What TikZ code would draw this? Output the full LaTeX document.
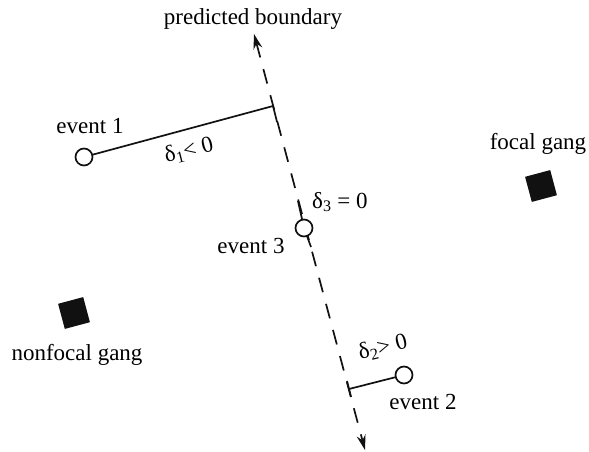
\documentclass[tikz,border=0pt]{standalone}
\usepackage{fontspec}
\setmainfont{Liberation Serif}
\usetikzlibrary{arrows.meta}
\definecolor{inkblack}{HTML}{111111}
\tikzset{
  evdot/.style={circle, draw=inkblack, line width=1.7pt, fill=white,
    minimum size=17pt, inner sep=0pt},
  gangbox/.style={fill=inkblack, minimum size=26pt, inner sep=0pt, rotate=15},
  lbl/.style={font=\fontsize{23}{27}\selectfont, inner sep=0pt},
  bnd/.style={line width=1.7pt, draw=inkblack, dash pattern=on 15pt off 12pt,
    {Stealth[length=15pt,width=9pt]}-{Stealth[length=15pt,width=9pt]}},
  conn/.style={line width=1.7pt, draw=inkblack}
}
\begin{document}
\begin{tikzpicture}[x=1pt,y=-1pt]
    \useasboundingbox (0,0) rectangle (589,451);
    % boundary
    \coordinate (btop) at (254,34);
    \coordinate (bbot) at (365,450);
    \coordinate (p1) at (273,106);
    \coordinate (p1t) at (277,122);
    \coordinate (p2) at (349,389);
    \coordinate (p2a) at (347,381);
    \coordinate (p2b) at (351,397);
    \coordinate (p3a) at (298,201);
    \coordinate (p3b) at (311,247);
    \draw[bnd] (btop) -- (bbot);
    % events
    \node[evdot] (ev1) at (84,157) {};
    \node[evdot] (ev2) at (404,375) {};
    \node[evdot] (ev3) at (304,228) {};
    \draw[conn] (ev1) -- (p1) -- (p1t);
    \draw[conn] (ev2) -- (p2);
    \draw[conn] (p2a) -- (p2b);
    \draw[conn] (p3a) -- (ev3);
    \draw[conn] (ev3) -- (p3b);
    % gangs
    \node[gangbox] (foc) at (541,186) {};
    \node[gangbox] (nfoc) at (74,313) {};
    % labels
    \node[lbl, anchor=base] (ttl) at (253,24) {predicted boundary};
    \node[lbl, anchor=base] (lev1) at (90,133) {event 1};
    \node[lbl, anchor=base] (lev2) at (423,409) {event 2};
    \node[lbl, anchor=base] (lev3) at (251,253) {event 3};
    \node[lbl, rotate=14] (d1) at (189,151) {δ\textsubscript{1}< 0};
    \node[lbl, rotate=14] (d2) at (383,348) {δ\textsubscript{2}> 0};
    \node[lbl, anchor=base west] (d3) at (312,208) {δ\textsubscript{3} = 0};
    \node[lbl, anchor=base] (lfoc) at (538,149) {focal gang};
    \node[lbl, anchor=base] (lnfoc) at (77,360) {nonfocal gang};
\end{tikzpicture}
\end{document}
